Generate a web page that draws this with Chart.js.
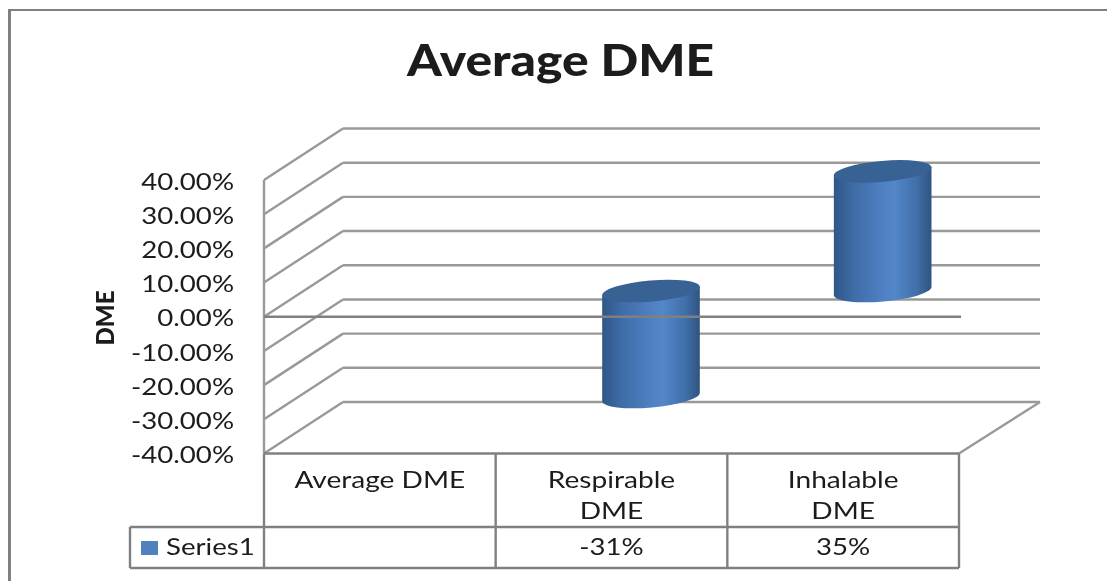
<!DOCTYPE html>
<html>
<head>
<meta charset="utf-8">
<style>html,body{margin:0;padding:0;background:#fff}canvas{display:block;filter:blur(.45px)}</style>
<script src="https://cdn.jsdelivr.net/npm/chart.js@4"></script>
</head>
<body>
<div style="width:1107px;height:581px;overflow:hidden"><canvas id="c" width="1107" height="581"></canvas></div>
<script>
const chartTitle = 'Average DME';
const yAxisTitle = 'DME';
const seriesName = 'Series1';
const categories = ['Average DME', ['Respirable', 'DME'], ['Inhalable', 'DME']];
const seriesValues = [null, -31, 35];

const INK = '#1c1c1c', GRID = '#999999', AXIS = '#808080';
const DX = 79, DY = 51.5;        // wall depth
const FONT = 'Lato, Carlito, sans-serif';

function txt(ctx, s, x, y, font, align, sx) {
  ctx.save();
  ctx.font = font; ctx.fillStyle = INK; ctx.textAlign = align; ctx.textBaseline = 'middle';
  ctx.translate(x, y); ctx.scale(sx || 1, 1);
  ctx.fillText(s, 0, 0);
  ctx.restore();
}
function seg(ctx, x1, y1, x2, y2, color, w) {
  ctx.beginPath(); ctx.moveTo(x1, y1); ctx.lineTo(x2, y2);
  ctx.strokeStyle = color; ctx.lineWidth = w; ctx.stroke();
}

const scene = {
  id: 'scene',
  beforeDatasetsDraw(chart) {
    const { ctx, chartArea: a, scales: { x, y } } = chart;
    ctx.save();
    // outer frame
    seg(ctx, 9.5, 10, 1107, 10, AXIS, 2);
    seg(ctx, 9.5, 9, 9.5, 581, AXIS, 3);
    // title
    txt(ctx, chartTitle, 560.5, 62, '900 44px ' + FONT, 'center', 1.13);
    // walls
    y.ticks.forEach(t => {
      const py = y.getPixelForValue(t.value);
      seg(ctx, a.left, py, a.left + DX, py - DY, GRID, 2.4);
      seg(ctx, a.left + DX, py - DY, a.right + DX + 2, py - DY, GRID, 2.4);
    });
    const fy = y.getPixelForValue(y.min);
    seg(ctx, a.right, fy, a.right + DX + 2, fy - DY, GRID, 2.4);
    seg(ctx, a.left, y.getPixelForValue(y.max), a.left, fy, GRID, 2.4);
    // y labels
    y.ticks.forEach(t => txt(ctx, t.label, 234, y.getPixelForValue(t.value) + 2, '24px ' + FONT, 'right', 1.15));
    // y title
    ctx.save();
    ctx.translate(106, 318); ctx.rotate(-Math.PI / 2);
    txt(ctx, yAxisTitle, 0, 0, '900 24px ' + FONT, 'center', 1);
    ctx.restore();
    ctx.restore();
  },
  afterDatasetsDraw(chart) {
    const { ctx, chartArea: a, scales: { x, y } } = chart;
    const meta = chart.getDatasetMeta(0);
    ctx.save();
    const rot = -5 * Math.PI / 180, ry = 10.5;
    meta.data.forEach((bar, i) => {
      if (seriesValues[i] == null) return;
      const cx = bar.x + DX / 2, rx = bar.width / 2;
      const top = Math.min(bar.y, bar.base) - DY / 2, bot = Math.max(bar.y, bar.base) - DY / 2;
      const ox = rx * Math.cos(rot), oy = rx * Math.sin(rot);
      const g = ctx.createLinearGradient(cx - rx, 0, cx + rx, 0);
      g.addColorStop(0, '#2f5687'); g.addColorStop(.2, '#3e6ca6');
      g.addColorStop(.5, '#4f80c2'); g.addColorStop(.62, '#5387ca');
      g.addColorStop(.85, '#406fa9'); g.addColorStop(1, '#2f5380');
      ctx.beginPath();
      ctx.moveTo(cx - ox, top - oy);
      ctx.lineTo(cx - ox, bot - oy);
      ctx.ellipse(cx, bot, rx, ry, rot, Math.PI, 0, true);
      ctx.lineTo(cx + ox, top + oy);
      ctx.closePath();
      ctx.fillStyle = g; ctx.fill();
      ctx.beginPath();
      ctx.ellipse(cx, top, rx, ry, rot, 0, Math.PI * 2);
      ctx.fillStyle = '#386294'; ctx.fill();
    });
    // zero line, in front of the bars
    const zy = y.getPixelForValue(0);
    seg(ctx, a.left, zy, a.right + 2, zy, AXIS, 2.4);

    // data table
    const fy = y.getPixelForValue(y.min);
    const rowTop = 527, rowBot = 568, legL = 130;
    const bounds = [a.left];
    x.ticks.forEach((t, i) => bounds.push(a.left + (a.right - a.left) * (i + 1) / x.ticks.length));
    seg(ctx, a.left, fy, a.right, fy, AXIS, 2.4);
    seg(ctx, legL, rowTop, a.right, rowTop, AXIS, 2.4);
    seg(ctx, legL, rowBot, a.right, rowBot, AXIS, 2.4);
    seg(ctx, legL, rowTop, legL, rowBot, AXIS, 2.4);
    bounds.forEach(b => seg(ctx, b, fy, b, rowBot, AXIS, 2.4));
    categories.forEach((c, i) => {
      const cx = (bounds[i] + bounds[i + 1]) / 2;
      const lines = Array.isArray(c) ? c : [c];
      lines.forEach((l, j) => txt(ctx, l, cx, 480 + j * 31.5, '24px ' + FONT, 'center', 1.17));
      if (seriesValues[i] != null) txt(ctx, seriesValues[i] + '%', cx, 547.5, '24px ' + FONT, 'center', 1.15);
    });
    ctx.fillStyle = '#4f81bd';
    ctx.fillRect(141, 541, 17, 14);
    txt(ctx, seriesName, 166, 547.5, '24px ' + FONT, 'left', 1.15);
    ctx.restore();
  }
};

new Chart(document.getElementById('c'), {
  type: 'bar',
  data: {
    labels: categories,
    datasets: [{ label: seriesName, data: seriesValues, backgroundColor: 'rgba(0,0,0,0)', borderWidth: 0, barThickness: 98 }]
  },
  options: {
    responsive: false,
    animation: false,
    events: [],
    layout: { padding: { left: 0, top: 180, right: 148, bottom: 0 } },
    plugins: { legend: { display: false }, title: { display: false }, tooltip: { enabled: false } },
    scales: {
      x: {
        grid: { display: false }, border: { display: false }, ticks: { display: false },
        afterFit(s) { s.height = 127.5; }
      },
      y: {
        min: -40, max: 40,
        grid: { display: false }, border: { display: false },
        ticks: { display: false, stepSize: 10, callback: v => v.toFixed(2) + '%' },
        afterFit(s) { s.width = 264; }
      }
    }
  },
  plugins: [scene]
});
</script>
</body>
</html>
